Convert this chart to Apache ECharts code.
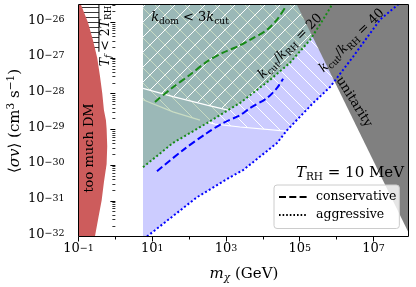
<!DOCTYPE html>
<html><head><meta charset="utf-8">
<script src="https://cdn.jsdelivr.net/npm/echarts@6/dist/echarts.min.js"></script>
<style>html,body{margin:0;padding:0;background:#fff}#c{width:416px;height:287px}</style>
</head><body><div id="c"></div>
<script>
const SERIF = 'DejaVu Serif';
const L = Math.log10;

// ---- axes (GeV, cm^3 s^-1) ----
const massRange = [0.1, 8.9e7];
const sigmaRange = [1e-32, 3.16e-26];
const massTickValues = [0.1, 1, 10, 100, 1e3, 1e4, 1e5, 1e6, 1e7];
const massLabelValues = [0.1, 10, 1e3, 1e5, 1e7];
const sigmaLabelValues = [1e-32, 1e-31, 1e-30, 1e-29, 1e-28, 1e-27, 1e-26];

// ---- too much DM ----
const tooMuchMass = [0.116, 0.180, 0.246, 0.322, 0.381, 0.440, 0.489, 0.555, 0.579, 0.601, 0.579, 0.489, 0.424, 0.343, 0.279];
const tooMuchSigma = [3.16e-26, 1e-26, 3.2e-27, 1e-27, 3.2e-28, 1.05e-28, 3.5e-29, 1.8e-29, 1.05e-29, 3.4e-30, 1.07e-30, 3.3e-31, 1.02e-31, 3.2e-32, 1e-32];
// ---- T_f < 2 T_RH ----
const tfMassMax = 0.358;
const tfSigmaMin = 1.5e-27;
// ---- k_cut/k_RH = 20, aggressive (green dotted) ----
const g20Mass = [5.62, 36.5, 305.5, 1135, 2404, 15670, 54700, 1.91e5, 4.31e5, 7.55e5];
const g20Sigma = [8.71e-31, 4.17e-30, 1.51e-29, 3.47e-29, 5.5e-29, 2.45e-28, 7.41e-28, 3.24e-27, 1.2e-26, 3.16e-26];
// ---- k_cut/k_RH = 40, aggressive (blue dotted) ----
const b40Mass = [7.19, 163.7, 1288, 2904, 24270, 45390, 2.31e5, 6.67e5, 2.81e6, 1.52e7, 4.68e7];
const b40Sigma = [1e-32, 1.26e-31, 4.57e-31, 7.24e-31, 4.17e-30, 9.55e-30, 5.5e-29, 1.55e-28, 1.1e-27, 1.2e-26, 3.16e-26];
// ---- conservative, 20 (green dashed) ----
const c20Mass = [11.86, 34.3, 105.4, 305.5, 829.8, 2118, 4487, 12970, 24270, 40000];
const c20Sigma = [5.89e-29, 1.45e-28, 3.39e-28, 7.94e-28, 1.41e-27, 2.14e-27, 3.24e-27, 6.17e-27, 1.2e-26, 2.57e-26];
// ---- conservative, 40 (blue dashed) ----
const c40Mass = [13.43, 68.2, 305.5, 829.8, 2404, 4487, 12970, 24270, 35320];
const c40Sigma = [6.76e-31, 2.63e-30, 7.94e-30, 1.51e-29, 2.51e-29, 3.98e-29, 7.59e-29, 1.45e-28, 2.63e-28];
// ---- k_dom < 3 k_cut boundaries ----
const kdom20Mass = [5.62, 36.5, 305.5, 1135];
const kdom20Sigma = [1.41e-28, 8.32e-29, 4.79e-29, 3.47e-29];
const kdom40Mass = [5.62, 36.5, 197.2, 503.5, 2404, 42660];
const kdom40Sigma = [6.76e-29, 3.09e-29, 1.82e-29, 1.41e-29, 1.17e-29, 8.91e-30];
// ---- unitarity ----
const uniMass = [83180, 8.9e7];
const uniSigma = [3.16e-26, 1.29e-32];

// ---------------------------------------------------------------
const xMin = L(massRange[0]), xMax = L(massRange[1]);
const yBot = L(sigmaRange[0]), yTop = L(sigmaRange[1]);
const pl = (ms, ss) => ms.map((m, i) => [L(m), L(ss[i])]);
function interpAt(pts, x) {
  if (x < pts[0][0] - 1e-9 || x > pts[pts.length - 1][0] + 1e-9) return -Infinity;
  for (let i = 1; i < pts.length; i++) {
    if (x <= pts[i][0] + 1e-9) {
      const [x0, y0] = pts[i - 1], [x1, y1] = pts[i];
      const t = x1 === x0 ? 0 : (x - x0) / (x1 - x0);
      return y0 + t * (y1 - y0);
    }
  }
  return pts[pts.length - 1][1];
}
function upper(a, b) {
  const xs = Array.from(new Set(a.concat(b).map(p => p[0]))).sort((p, q) => p - q);
  return xs.map(x => [x, Math.max(interpAt(a, x), interpAt(b, x))]);
}
const above = ln => ln.concat([[ln[ln.length - 1][0], yTop], [ln[0][0], yTop]]);

function hatch(color, dir, s, lw) {
  const c = document.createElement('canvas'); c.width = s; c.height = s;
  const g = c.getContext('2d'); g.strokeStyle = color; g.lineWidth = lw; g.beginPath();
  if (dir === '/') { for (const o of [-s, 0, s]) { g.moveTo(o - 1, s + 1); g.lineTo(o + s + 1, -1); } }
  else if (dir === '\\') { for (const o of [-s, 0, s]) { g.moveTo(o - 1, -1); g.lineTo(o + s + 1, s + 1); } }
  else { g.moveTo(0, s / 2); g.lineTo(s, s / 2); }
  g.stroke();
  return { type: 'pattern', image: c, repeat: 'repeat' };
}

function poly(pts, fill, z) {
  return {
    type: 'custom', coordinateSystem: 'cartesian2d', clip: true, silent: true, z,
    data: [pts[0]],
    renderItem: (params, api) => ({
      type: 'polygon',
      shape: { points: pts.map(p => api.coord(p)) },
      style: { fill: fill, stroke: null }
    })
  };
}
function line(pts, color, width, type, z, smooth) {
  return { type: 'line', data: pts, symbol: 'none', silent: true, z, smooth: smooth || false,
    lineStyle: { color, width, type }, clip: true };
}

const green = pl(g20Mass, g20Sigma);
const blue = pl(b40Mass, b40Sigma);
const k20 = pl(kdom20Mass, kdom20Sigma);
const k40 = pl(kdom40Mass, kdom40Sigma);
const x0 = green[0][0];

const redPoly = [[xMin, yTop]].concat(pl(tooMuchMass, tooMuchSigma), [[xMin, yBot]]);
const tfPoly = [[xMin, yTop], [L(tfMassMax), yTop], [L(tfMassMax), L(tfSigmaMin)], [xMin, L(tfSigmaMin)]];
const bluePoly = [[x0, yTop], [x0, yBot]].concat(blue, [[blue[blue.length - 1][0], yTop]]);
const tealPoly = above(green);
const aPoly = above(upper(k20, green));
const bPoly = above(upper(k40, blue));
const bTealPoly = above(upper(k40, green));
const uni = pl(uniMass, uniSigma);
const grayPoly = [uni[0], uni[1], [xMax, yTop]];

const k40Pale = [], k40White = [];
k40.forEach(p => (p[1] >= interpAt(green, p[0]) ? k40Pale : k40White).push(p));
k40White.unshift(k40Pale[k40Pale.length - 1]);

const TEAL = '#9bb8b7', LAV = '#ccccff', PALE = '#c9dcc3', GRAY = '#808080', RED = '#cd5c5c';
const GREEN = '#178a17', BLUE = '#0000ff';
const DOT = [2, 2.3], DASH = [7, 3.3];

const supLabel = v => {
  const n = Math.round(v);
  return '{b|10}{s|' + (n < 0 ? '\u2212' + (-n) : n) + '}';
};
const tickRich = {
  b: { fontFamily: SERIF, fontSize: 13, lineHeight: 15, verticalAlign: 'bottom', padding: [0, 0, 3, 0], color: '#000' },
  s: { fontFamily: SERIF, fontSize: 9.5, lineHeight: 10, verticalAlign: 'top', padding: [0, 0, 14, 0], color: '#000' }
};

const yMinor = [];
for (let n = -32; n <= -26; n++) for (let k = 2; k <= 9; k++) { const v = n + L(k); if (v <= yTop) yMinor.push(v); }
const xMajor = massLabelValues.map(L);
const xMinor = massTickValues.map(L).filter(v => !xMajor.some(m => Math.abs(m - v) < 1e-6));

function mathRich(fs) {
  const sub = +(fs * 0.7).toFixed(1);
  const pad = Math.round(fs * 0.55);
  return {
    r: { fontFamily: SERIF, fontSize: fs, lineHeight: fs + 2, verticalAlign: 'top' },
    i: { fontFamily: SERIF, fontSize: fs, fontStyle: 'italic', lineHeight: fs + 2, verticalAlign: 'top' },
    d: { fontFamily: SERIF, fontSize: sub, lineHeight: sub + 1, verticalAlign: 'bottom', padding: [pad, 0, 0, 0] },
    di: { fontFamily: SERIF, fontSize: sub, fontStyle: 'italic', lineHeight: sub + 1, verticalAlign: 'bottom', padding: [pad, 0, 0, 0] }
  };
}
function txt(x, y, rot, text, rich, fs) {
  return { type: 'text', x, y, rotation: rot, z: 20, silent: true,
    style: { text, rich, fontFamily: SERIF, fontSize: fs, fill: '#000', align: 'center', verticalAlign: 'middle' } };
}
const deg = Math.PI / 180;

const chart = echarts.init(document.getElementById('c'), null, { renderer: 'canvas' });
chart.setOption({
  animation: false,
  backgroundColor: '#fff',
  grid: { left: 78.5, right: 7.5, top: 4.5, bottom: 50.5, show: true, borderColor: '#000', borderWidth: 1, z: 11, backgroundColor: 'transparent' },
  xAxis: [
    { type: 'value', min: xMin, max: xMax, position: 'bottom', z: 11,
      axisLine: { show: false }, splitLine: { show: false },
      axisTick: { show: true, customValues: xMajor, length: 5, lineStyle: { color: '#000', width: 1 } },
      axisLabel: { customValues: xMajor, formatter: supLabel, rich: tickRich, margin: 7 } },
    { type: 'value', min: xMin, max: xMax, position: 'bottom', z: 11,
      axisLine: { show: false }, splitLine: { show: false },
      axisTick: { show: true, customValues: xMinor, length: 3, lineStyle: { color: '#000', width: 1 } },
      axisLabel: { show: false } }
  ],
  yAxis: [
    { type: 'value', min: yBot, max: yTop, position: 'left', z: 11,
      axisLine: { show: false }, splitLine: { show: false },
      axisTick: { show: true, customValues: sigmaLabelValues.map(L), length: 5, lineStyle: { color: '#000', width: 1 } },
      axisLabel: { customValues: sigmaLabelValues.map(L), formatter: supLabel, rich: tickRich, margin: 14 } },
    { type: 'value', min: yBot, max: yTop, position: 'left', z: 11,
      axisLine: { show: false }, splitLine: { show: false },
      axisTick: { show: true, customValues: yMinor, length: 3, lineStyle: { color: '#000', width: 0.8 } },
      axisLabel: { show: false } }
  ],
  legend: {
    data: ['conservative', 'aggressive'], orient: 'vertical', left: 274, top: 185,
    itemWidth: 28, itemHeight: 12, itemGap: 3, padding: [4.5, 3, 6, 4],
    backgroundColor: 'rgba(255,255,255,0.8)', borderColor: '#cccccc', borderWidth: 1, borderRadius: 3,
    itemStyle: { color: 'rgba(0,0,0,0)', borderWidth: 0, opacity: 0 },
    textStyle: { fontFamily: SERIF, fontSize: 12.5, color: '#000', lineHeight: 15, padding: [0, 0, 0, 4] },
    z: 15
  },
  series: [
    poly(bluePoly, LAV, 1),
    poly(bPoly, hatch('#ffffff', '\\', 15, 1), 2),
    line(k40White, '#ffffff', 1.2, 'solid', 2),
    poly(tealPoly, TEAL, 3),
    poly(bTealPoly, hatch(PALE, '\\', 15, 1), 4),
    line(k40Pale, PALE, 1.2, 'solid', 4),
    poly(aPoly, hatch('#ffffff', '/', 15, 1), 5),
    line(k20, '#ffffff', 1.2, 'solid', 5),
    poly(grayPoly, GRAY, 6),
    line(green, GREEN, 2, DOT, 7),
    line(blue, BLUE, 2, DOT, 7),
    line(pl(c20Mass, c20Sigma), GREEN, 2, DASH, 7, 0.3),
    line(pl(c40Mass, c40Sigma), BLUE, 2, DASH, 7, 0.3),
    poly(tfPoly, hatch('#222222', '-', 5, 0.9), 8),
    line([[L(tfMassMax), yTop], [L(tfMassMax), L(tfSigmaMin)]], '#000', 1, 'solid', 8),
    poly(redPoly, RED, 9),
    { name: 'conservative', type: 'line', data: [], symbol: 'none', itemStyle: { color: '#000' }, lineStyle: { color: '#000', width: 1.6, type: DASH } },
    { name: 'aggressive', type: 'line', data: [], symbol: 'none', itemStyle: { color: '#000' }, lineStyle: { color: '#000', width: 1.6, type: [1.6, 2] } }
  ],
  graphic: { elements: [
    txt(190, 18.5, 0, '{i|k}{d|dom}{r| < 3}{i|k}{d|cut}', mathRich(13), 13),
    txt(291, 47, 45.5 * deg, '{i|k}{d|cut}{r|/}{i|k}{d|RH}{r| = 20}', mathRich(13), 13),
    txt(352.5, 41.5, 44 * deg, '{i|k}{d|cut}{r|/}{i|k}{d|RH}{r| = 40}', mathRich(13), 13),
    txt(354, 102, -58 * deg, 'unitarity', null, 13),
    txt(89.5, 148, 90 * deg, 'too much DM', null, 13),
    txt(106, 36, 90 * deg, '{i|T}{di|f}{r| < 2}{i|T}{d|RH}', mathRich(12.5), 12.5),
    txt(350, 174, 0, '{i|T}{d|RH}{r| = 10 MeV}', mathRich(15), 15),
    txt(244, 275.5, 0, '{i|m}{di|\u03c7}{r| (GeV)}', mathRich(15), 15),
    txt(14, 121, 90 * deg, '{r|\u27e8}{i|\u03c3v}{r|\u27e9 (cm}{u|3}{r| s}{u|\u22121}{r|)}', {
      r: { fontFamily: SERIF, fontSize: 15, lineHeight: 17, verticalAlign: 'bottom' },
      i: { fontFamily: SERIF, fontSize: 15, fontStyle: 'italic', lineHeight: 17, verticalAlign: 'bottom' },
      u: { fontFamily: SERIF, fontSize: 10.5, lineHeight: 11.5, verticalAlign: 'top', padding: [0, 0, 9, 0] }
    }, 15)
  ] }
});
</script></body></html>
